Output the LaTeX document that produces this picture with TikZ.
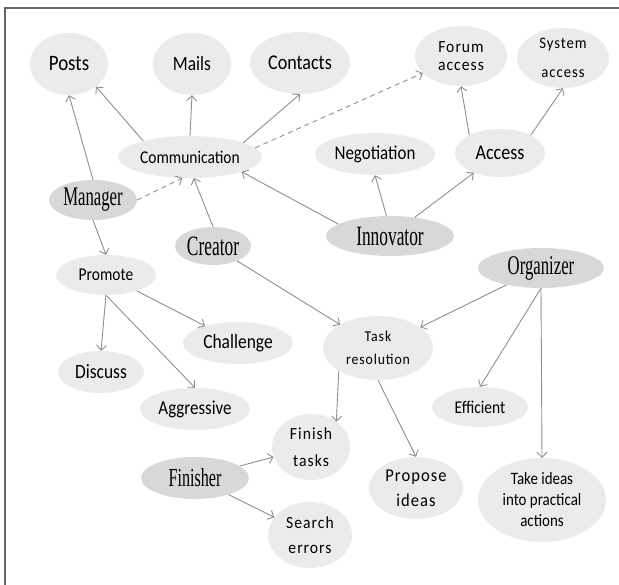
\documentclass[tikz,border=0pt]{standalone}
\usepackage{fontspec}
\setmainfont{Carlito}[FakeStretch=0.86]
\newfontfamily\rolefont[FakeStretch=0.62]{Liberation Serif}
\newfontfamily\spacedfont[LetterSpace=6,FakeStretch=0.92]{Carlito}
\usetikzlibrary{shapes.geometric,arrows.meta}

\definecolor{bolla}{HTML}{EBEBEB}
\definecolor{ruolo}{HTML}{D8D8D8}
\definecolor{freccia}{HTML}{8E8E8E}

\tikzset{
  bolla/.style={ellipse, fill=bolla, inner sep=0pt, align=center, text=black},
  ruolo/.style={bolla, fill=ruolo},
  freccia/.style={draw=freccia, line width=0.9pt, -{Straight Barb[length=5pt,width=10pt]}},
  tratteggio/.style={freccia, dash pattern=on 5pt off 4pt},
}

\newcommand{\fs}[1]{\fontsize{#1}{#1}\selectfont}
\newcommand{\fsl}[2]{\fontsize{#1}{#2}\selectfont}

\begin{document}
\begin{tikzpicture}[x=1pt,y=-1pt]

  % Area del disegno
  \useasboundingbox (0,0) rectangle (619,585);

  % Cornice (solo bordo alto e sinistro)
  \draw[line width=1.6pt, black!60] (619,8) -- (5,8) -- (5,585);

  % Riga in alto
  \node[bolla, minimum width=78pt, minimum height=62pt, font=\fs{22}] (posts) at (69,64) {Posts};
  \node[bolla, minimum width=78pt, minimum height=62pt, font=\fs{20.3}] (mails) at (192,64) {Mails};
  \node[bolla, minimum width=100pt, minimum height=62pt, font=\fs{21}] (contacts) at (300,63) {Contacts};
  \node[bolla, minimum width=92pt, minimum height=60pt, font=\spacedfont\fsl{17}{18}] (forum) at (461,56) {Forum\\access};
  \node[bolla, minimum width=92pt, minimum height=60pt, font=\spacedfont\fsl{16}{29}] (system) at (563,58) {System\\access};

  % Seconda riga
  \node[bolla, minimum width=144pt, minimum height=42pt, font=\fs{18}] (comm) at (190,157) {Communication};
  \node[bolla, minimum width=120pt, minimum height=42pt, font=\fs{19.7}] (nego) at (375,154) {Negotiation};
  \node[bolla, minimum width=90pt, minimum height=48pt, font=\fs{21}] (access) at (500,153) {Access};

  % Ruoli
  \node[ruolo, minimum width=88pt, minimum height=40pt, font=\rolefont\fs{27}] (mgr) at (93,200) {Manager};
  \node[ruolo, minimum width=76pt, minimum height=38pt, font=\rolefont\fs{28}] (creator) at (213,246) {Creator};
  \node[ruolo, minimum width=128pt, minimum height=40pt, font=\rolefont\fs{28}] (innov) at (390,236) {Innovator};
  \node[ruolo, minimum width=126pt, minimum height=40pt, font=\rolefont\fs{27}] (orga) at (541,268) {Organizer};
  \node[ruolo, minimum width=108pt, minimum height=42pt, font=\rolefont\fs{26}] (finisher) at (195,478) {Finisher};

  % Comportamenti
  \node[bolla, minimum width=100pt, minimum height=40pt, font=\fs{18}] (promote) at (106,275) {Promote};
  \node[bolla, minimum width=110pt, minimum height=42pt, font=\fs{20.3}] (challenge) at (238,343) {Challenge};
  \node[bolla, minimum width=86pt, minimum height=42pt, font=\fs{20.3}] (discuss) at (101,372) {Discuss};
  \node[bolla, minimum width=110pt, minimum height=42pt, font=\fs{19.7}] (aggr) at (195,409) {Aggressive};
  \node[bolla, minimum width=110pt, minimum height=64pt, font=\spacedfont\fsl{15}{23}] (task) at (378,348) {Task\\resolution};
  \node[bolla, minimum width=96pt, minimum height=40pt, font=\fs{18}] (effi) at (480,407) {Efficient};
  \node[bolla, minimum width=78pt, minimum height=66pt, font=\spacedfont\fsl{17}{27}] (finish) at (311,447) {Finish\\tasks};
  \node[bolla, minimum width=84pt, minimum height=66pt, font=\spacedfont\fsl{17}{25}] (search) at (310,535) {Search\\errors};
  \node[bolla, minimum width=94pt, minimum height=62pt, font=\spacedfont\fsl{18}{25}] (propose) at (416,488) {Propose\\ideas};
  \node[bolla, minimum width=128pt, minimum height=84pt, font=\fsl{17.4}{21}] (ideas) at (542,500) {Take ideas\\into practical\\actions};

  % Frecce da Communication
  \draw[freccia] (comm.161) -- (posts.-40);
  \draw[freccia] (comm.north) -- (mails.south);
  \draw[freccia] (comm.15) -- (contacts.south);
  \draw[tratteggio] (comm.8) -- (forum);

  % Frecce da Manager
  \draw[freccia] (mgr.north) -- (posts.south);
  \draw[tratteggio] (mgr.east) -- (comm.-110);
  \draw[freccia] (mgr.south) -- (promote.north);

  % Frecce da Creator
  \draw[freccia] (creator.north) -- (comm.-80);
  \draw[freccia] (creator) -- (task);

  % Frecce da Innovator
  \draw[freccia] (innov.167) -- (comm.-16);
  \draw[freccia] (innov.100) -- (nego.south);
  \draw[freccia] (innov) -- (access);

  % Frecce da Access
  \draw[freccia] (access.150) -- (forum.south);
  \draw[freccia] (access.30) -- (system.south);

  % Frecce da Promote
  \draw[freccia] (promote.south) -- (discuss.north);
  \draw[freccia] (promote) -- (challenge);
  \draw[freccia] (promote.south) -- (aggr.north);

  % Frecce da Organizer
  \draw[freccia] (orga) -- (task);
  \draw[freccia] (orga.south) -- (effi.north);
  \draw[freccia] (orga.south) -- (ideas.north);

  % Frecce da Task resolution
  \draw[freccia] (task.-150) -- (finish.45);
  \draw[freccia] (task.south) -- (propose.north);

  % Frecce da Finisher
  \draw[freccia] (finisher) -- (finish);
  \draw[freccia] (finisher) -- (search);

\end{tikzpicture}
\end{document}
